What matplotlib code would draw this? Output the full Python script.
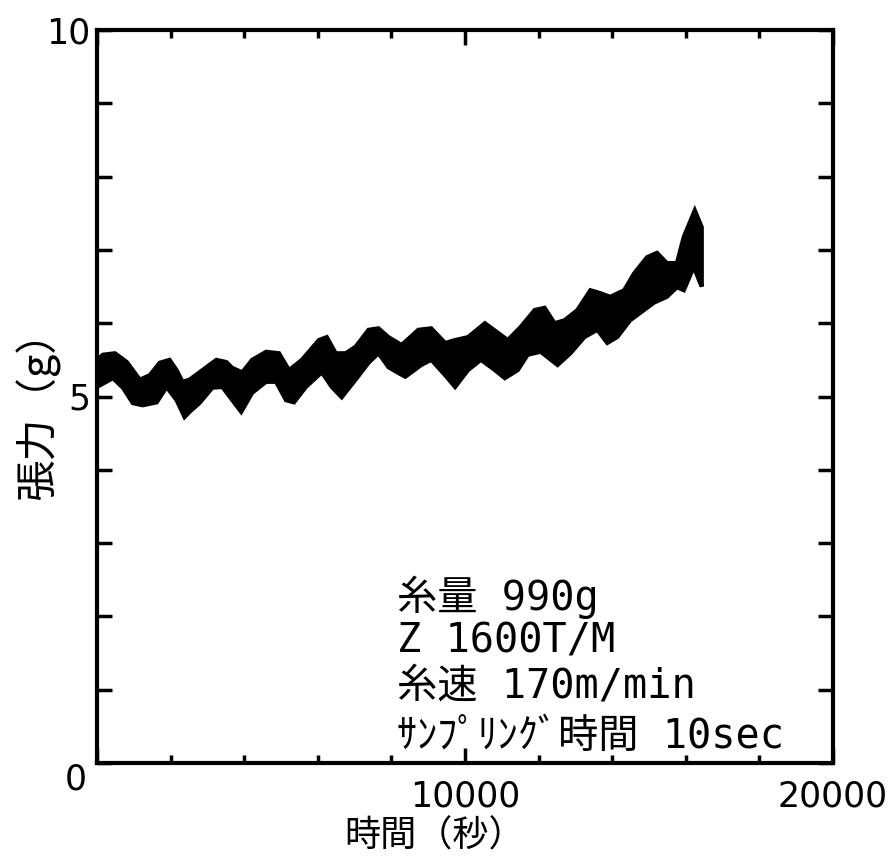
import matplotlib
matplotlib.use("Agg")
import matplotlib.pyplot as plt
from matplotlib.ticker import MultipleLocator, FixedLocator
import numpy as np

# upper / lower edge of the tension trace (time in s, tension in g)
time_upper = [0, 162, 487, 811, 973, 1162, 1433, 1703, 1973, 2162, 2325, 2514,
              2784, 2973, 3244, 3514, 3676, 3946, 4216, 4595, 4946, 5217, 5568,
              6028, 6244, 6487, 6758, 7028, 7379, 7649, 7920, 8190, 8271, 8731,
              9082, 9461, 9731, 10082, 10541, 10893, 11163, 11515, 11893, 12163,
              12434, 12704, 13055, 13407, 13677, 13947, 14325, 14596, 14947,
              15217, 15487, 15758, 15947, 16244, 16434]
tension_upper = [5.50, 5.57, 5.59, 5.47, 5.36, 5.23, 5.29, 5.46, 5.50, 5.36, 5.20,
                 5.23, 5.33, 5.40, 5.50, 5.47, 5.39, 5.33, 5.50, 5.61, 5.59, 5.36,
                 5.50, 5.77, 5.81, 5.59, 5.59, 5.68, 5.91, 5.93, 5.81, 5.73, 5.70,
                 5.91, 5.93, 5.73, 5.77, 5.81, 6.00, 5.87, 5.77, 5.95, 6.18, 6.21,
                 6.00, 6.04, 6.18, 6.45, 6.41, 6.36, 6.45, 6.68, 6.90, 6.96, 6.82,
                 6.82, 7.18, 7.54, 7.31]
time_lower = [0, 432, 703, 973, 1243, 1622, 1892, 2162, 2379, 2514, 2784, 3135,
              3406, 3676, 3919, 4216, 4595, 4865, 5136, 5352, 5676, 6109, 6379,
              6649, 7028, 7379, 7649, 7920, 8190, 8379, 8812, 9082, 9461, 9731,
              10082, 10433, 10812, 11082, 11434, 11704, 12055, 12515, 12866,
              13245, 13596, 13866, 14136, 14488, 14758, 15136, 15487, 15758,
              15947, 16217, 16380, 16434]
tension_lower = [5.13, 5.25, 5.12, 4.91, 4.88, 4.92, 5.13, 4.95, 4.72, 4.79, 4.91,
                 5.12, 5.13, 4.95, 4.79, 5.05, 5.20, 5.20, 4.95, 4.92, 5.13, 5.33,
                 5.13, 4.99, 5.23, 5.46, 5.59, 5.40, 5.32, 5.27, 5.43, 5.50, 5.29,
                 5.13, 5.36, 5.50, 5.36, 5.25, 5.36, 5.57, 5.61, 5.43, 5.59, 5.81,
                 5.91, 5.73, 5.81, 6.04, 6.14, 6.28, 6.36, 6.49, 6.45, 6.77, 6.56,
                 6.50]

xticks = [0, 10000, 20000]
xtick_labels = ["", "10000", "20000"]
yticks = [0, 5, 10]
ytick_labels = ["", "5", "10"]

notes = ["糸量 990g", "Z 1600T/M", "糸速 170m/min", "ｻﾝﾌﾟﾘﾝｸﾞ時間 10sec"]

num_font = ["DejaVu Sans"]
jp_font = ["Noto Sans CJK JP", "DejaVu Sans"]
note_font = ["DejaVu Sans Mono", "Noto Sans CJK JP"]

fig = plt.figure(figsize=(8.89, 8.59), dpi=100)
ax = fig.add_axes([97 / 889, 96 / 859, 736 / 889, 733 / 859])

# the trace is a dense noisy band, drawn as its envelope
band_x = np.r_[time_upper, time_lower[::-1]]
band_y = np.r_[tension_upper, tension_lower[::-1]]
ax.fill(band_x, band_y, color="black", linewidth=3, edgecolor="black",
        joinstyle="miter")

ax.set_xlim(0, 20000)
ax.set_ylim(0, 10)

ax.set_xticks(xticks)
ax.set_xticklabels(xtick_labels, family=num_font, fontsize=25)
ax.xaxis.set_minor_locator(MultipleLocator(2000))
ax.set_yticks(yticks)
ax.set_yticklabels(ytick_labels, family=num_font, fontsize=25)
ax.yaxis.set_minor_locator(FixedLocator([1, 2, 3, 4, 6, 7, 8, 9]))

for s in ax.spines.values():
    s.set_linewidth(3)

ax.tick_params(axis="both", which="both", direction="in", top=True, right=True,
               width=2.5, color="black")
ax.tick_params(axis="y", which="both", length=11, pad=5)
ax.tick_params(axis="x", which="major", length=11, pad=12)
ax.tick_params(axis="x", which="minor", length=6)

ax.text(-0.0285, -0.023, "0", transform=ax.transAxes, ha="center", va="center",
        family=num_font, fontsize=25)

ax.set_xlabel("時間（秒）", family=jp_font, fontsize=26)
ax.xaxis.label.set_va("center")
ax.xaxis.set_label_coords(0.458, -0.100)
ax.set_ylabel("張力（g）", family=jp_font, fontsize=30)
ax.yaxis.label.set_va("center")
ax.yaxis.set_label_coords(-0.0815, 0.488)

note_y = [0.2087, 0.1501, 0.0900, 0.0205]
for txt, ny in zip(notes, note_y):
    ax.text(0.4076, ny, txt, transform=ax.transAxes, ha="left", va="baseline",
            family=note_font, fontsize=29)

fig.savefig("out.png", dpi=100)
